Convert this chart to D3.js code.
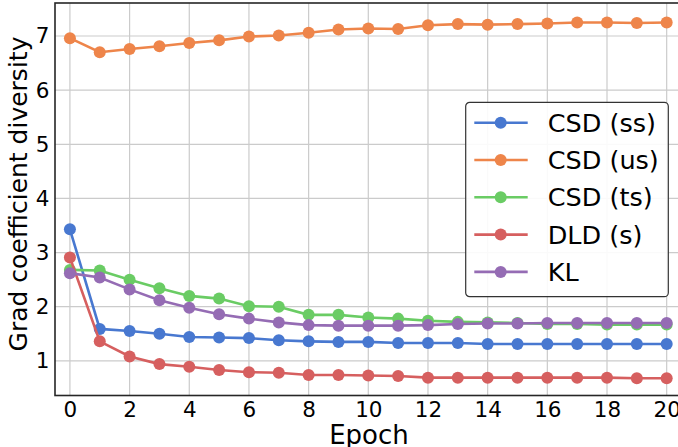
<!DOCTYPE html>
<html>
<head>
<meta charset="utf-8">
<script src="https://cdn.jsdelivr.net/npm/d3@7"></script>
<style>
  body { margin: 0; background: #fff; }
  text { font-family: "DejaVu Sans", sans-serif; fill: #000; }
</style>
</head>
<body>
<div id="chart"></div>
<script>
const epochs = d3.range(0, 21)
const seriesNames = ["CSD (ss)", "CSD (us)", "CSD (ts)", "DLD (s)", "KL"]
const csdSS = [3.43, 1.59, 1.55, 1.50, 1.44, 1.43, 1.42, 1.38, 1.36, 1.35, 1.35, 1.33, 1.33, 1.33, 1.31, 1.31, 1.31, 1.31, 1.31, 1.31, 1.31]
const csdUS = [6.96, 6.70, 6.76, 6.81, 6.87, 6.92, 6.99, 7.01, 7.06, 7.12, 7.14, 7.13, 7.20, 7.22, 7.21, 7.22, 7.23, 7.25, 7.25, 7.24, 7.25]
const csdTS = [2.68, 2.67, 2.50, 2.34, 2.20, 2.15, 2.01, 2.00, 1.85, 1.85, 1.80, 1.78, 1.74, 1.72, 1.71, 1.70, 1.68, 1.68, 1.67, 1.67, 1.67]
const dldS = [2.91, 1.36, 1.08, 0.94, 0.89, 0.83, 0.79, 0.78, 0.74, 0.74, 0.73, 0.72, 0.69, 0.69, 0.69, 0.69, 0.69, 0.69, 0.69, 0.68, 0.68]
const kl = [2.62, 2.54, 2.32, 2.12, 1.98, 1.86, 1.78, 1.71, 1.66, 1.65, 1.65, 1.65, 1.66, 1.68, 1.69, 1.69, 1.70, 1.70, 1.70, 1.70, 1.70]
const xTicks = [0, 2, 4, 6, 8, 10, 12, 14, 16, 18, 20]
const yTicks = [1, 2, 3, 4, 5, 6, 7]

const COLORS = ["#4878d0", "#ee854a", "#6acc64", "#d65f5f", "#956cb4"]
const allSeries = [csdSS, csdUS, csdTS, dldS, kl]

const W = 678, H = 447
const pLeft = 55, pRight = 681.6, pTop = 3, pBottom = 395.5

const svg = d3.select("#chart").append("svg").attr("width", W).attr("height", H)

const x = d3.scaleLinear().domain([-0.5, 20.5]).range([pLeft, pRight])
const y = d3.scaleLinear().domain([0.36, 7.61]).range([pBottom, pTop])

// grid
const grid = svg.append("g")
grid.selectAll("line.gx").data(xTicks).enter().append("line")
    .attr("x1", d => x(d)).attr("x2", d => x(d)).attr("y1", pTop).attr("y2", pBottom)
    .attr("stroke", "#cbcbcb").attr("stroke-width", 1.2)
grid.selectAll("line.gy").data(yTicks).enter().append("line")
    .attr("x1", pLeft).attr("x2", pRight).attr("y1", d => y(d)).attr("y2", d => y(d))
    .attr("stroke", "#cbcbcb").attr("stroke-width", 1.2)

// axes (labels only, no tick marks)
const xAxis = svg.append("g").attr("transform", `translate(0,${pBottom})`)
    .call(d3.axisBottom(x).tickValues(xTicks).tickSize(0).tickPadding(5.5))
const yAxis = svg.append("g").attr("transform", `translate(${pLeft},0)`)
    .call(d3.axisLeft(y).tickValues(yTicks).tickSize(0).tickPadding(5.5))
;[xAxis, yAxis].forEach(a => {
    a.select(".domain").remove()
    a.selectAll("text").style("font-size", "21.5px").attr("fill", "#000")
})
xAxis.selectAll("text").attr("dy", "0.73em")

// lines + markers
const line = d3.line().x((d, i) => x(epochs[i])).y(d => y(d))
allSeries.forEach((s, k) => {
    const g = svg.append("g")
    g.append("path").datum(s).attr("d", line)
        .attr("fill", "none").attr("stroke", COLORS[k]).attr("stroke-width", 2.6)
    g.selectAll("circle").data(s).enter().append("circle")
        .attr("cx", (d, i) => x(epochs[i])).attr("cy", d => y(d)).attr("r", 6)
        .attr("fill", COLORS[k])
})

// frame
svg.append("rect").attr("x", pLeft).attr("y", pTop).attr("width", pRight - pLeft).attr("height", pBottom - pTop)
    .attr("fill", "none").attr("stroke", "#262626").attr("stroke-width", 1.6)

// axis titles
svg.append("text").attr("x", 369).attr("y", 444.3).attr("text-anchor", "middle")
    .style("font-size", "26px").text("Epoch")
svg.append("text").attr("transform", "translate(27,194) rotate(-90)").attr("text-anchor", "middle")
    .style("font-size", "25px").text("Grad coefficient diversity")

// legend
const legend = svg.append("g").attr("transform", "translate(465.7,102.3)")
legend.append("rect").attr("width", 202.6).attr("height", 194.4).attr("rx", 4)
    .attr("fill", "#fff").attr("fill-opacity", 0.9).attr("stroke", "#333").attr("stroke-width", 1.2)
seriesNames.forEach((name, k) => {
    const row = legend.append("g").attr("transform", `translate(0,${20.4 + k * 37.3})`)
    row.append("line").attr("x1", 8.6).attr("x2", 62).attr("stroke", COLORS[k]).attr("stroke-width", 2.6)
    row.append("circle").attr("cx", 35).attr("r", 6).attr("fill", COLORS[k])
    row.append("text").attr("x", 82).attr("dy", "0.36em").style("font-size", "25.5px").text(name)
})
</script>
</body>
</html>
